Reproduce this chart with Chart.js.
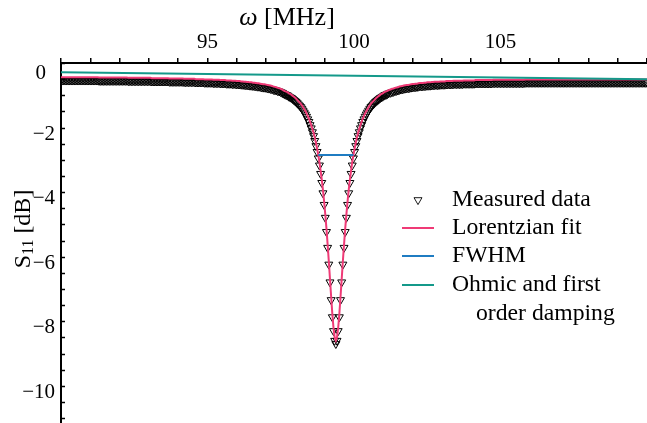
<!DOCTYPE html>
<html>
<head>
<meta charset="utf-8">
<script src="https://cdn.jsdelivr.net/npm/chart.js@4.4.1/dist/chart.umd.min.js"></script>
<style>
  html, body { margin: 0; padding: 0; background: #fff; }
  #wrap { width: 647px; height: 423px; }
</style>
</head>
<body>
<div id="wrap"><canvas id="chart" width="647" height="423"></canvas></div>
<script>
// --- data ---
const freqMHz = [
  90, 90.05, 90.1, 90.15, 90.2, 90.25, 90.3, 90.35, 90.4, 90.45, 90.5, 90.55, 90.6, 90.65, 90.7, 90.75, 90.8, 90.85, 90.9, 90.95,
  91, 91.05, 91.1, 91.15, 91.2, 91.25, 91.3, 91.35, 91.4, 91.45, 91.5, 91.55, 91.6, 91.65, 91.7, 91.75, 91.8, 91.85, 91.9, 91.95,
  92, 92.05, 92.1, 92.15, 92.2, 92.25, 92.3, 92.35, 92.4, 92.45, 92.5, 92.55, 92.6, 92.65, 92.7, 92.75, 92.8, 92.85, 92.9, 92.95,
  93, 93.05, 93.1, 93.15, 93.2, 93.25, 93.3, 93.35, 93.4, 93.45, 93.5, 93.55, 93.6, 93.65, 93.7, 93.75, 93.8, 93.85, 93.9, 93.95,
  94, 94.05, 94.1, 94.15, 94.2, 94.25, 94.3, 94.35, 94.4, 94.45, 94.5, 94.55, 94.6, 94.65, 94.7, 94.75, 94.8, 94.85, 94.9, 94.95,
  95, 95.05, 95.1, 95.15, 95.2, 95.25, 95.3, 95.35, 95.4, 95.45, 95.5, 95.55, 95.6, 95.65, 95.7, 95.75, 95.8, 95.85, 95.9, 95.95,
  96, 96.05, 96.1, 96.15, 96.2, 96.25, 96.3, 96.35, 96.4, 96.45, 96.5, 96.55, 96.6, 96.65, 96.7, 96.75, 96.8, 96.85, 96.9, 96.95,
  97, 97.05, 97.1, 97.15, 97.2, 97.25, 97.3, 97.35, 97.4, 97.45, 97.5, 97.55,
  97.58, 97.62, 97.66, 97.70, 97.74, 97.78, 97.82, 97.86, 97.90, 97.94,
  97.98, 98.02, 98.06, 98.10, 98.14, 98.18, 98.22, 98.26, 98.30, 98.34,
  98.38, 98.42, 98.46, 98.50, 98.54, 98.58, 98.62, 98.66, 98.70, 98.74,
  98.78, 98.82, 98.86, 98.90, 98.94, 98.98, 99.02, 99.06, 99.10, 99.14,
  99.18, 99.22, 99.26, 99.30, 99.34, 99.38, 99.42, 99.46, 99.50, 99.54,
  99.58, 99.62, 99.66, 99.70, 99.74, 99.78, 99.82, 99.86, 99.90, 99.94,
  99.98, 100.02, 100.06, 100.10, 100.14, 100.18, 100.22, 100.26, 100.30, 100.34,
  100.38, 100.42, 100.46, 100.50, 100.54, 100.58, 100.62, 100.66, 100.70, 100.74,
  100.78, 100.82, 100.86, 100.90, 100.94, 100.98, 101.02, 101.06, 101.10, 101.14,
  101.18,
  101.25, 101.3, 101.35, 101.4, 101.45, 101.5, 101.55, 101.6, 101.65, 101.7, 101.75, 101.8, 101.85, 101.9, 101.95,
  102, 102.05, 102.1, 102.15, 102.2, 102.25, 102.3, 102.35, 102.4, 102.45, 102.5, 102.55, 102.6, 102.65, 102.7, 102.75, 102.8, 102.85, 102.9, 102.95,
  103, 103.05, 103.1, 103.15, 103.2, 103.25, 103.3, 103.35, 103.4, 103.45, 103.5, 103.55, 103.6, 103.65, 103.7, 103.75, 103.8, 103.85, 103.9, 103.95,
  104, 104.05, 104.1, 104.15, 104.2, 104.25, 104.3, 104.35, 104.4, 104.45, 104.5, 104.55, 104.6, 104.65, 104.7, 104.75, 104.8, 104.85, 104.9, 104.95,
  105, 105.05, 105.1, 105.15, 105.2, 105.25, 105.3, 105.35, 105.4, 105.45, 105.5, 105.55, 105.6, 105.65, 105.7, 105.75, 105.8, 105.85, 105.9, 105.95,
  106, 106.05, 106.1, 106.15, 106.2, 106.25, 106.3, 106.35, 106.4, 106.45, 106.5, 106.55, 106.6, 106.65, 106.7, 106.75, 106.8, 106.85, 106.9, 106.95,
  107, 107.05, 107.1, 107.15, 107.2, 107.25, 107.3, 107.35, 107.4, 107.45, 107.5, 107.55, 107.6, 107.65, 107.7, 107.75, 107.8, 107.85, 107.9, 107.95,
  108, 108.05, 108.1, 108.15, 108.2, 108.25, 108.3, 108.35, 108.4, 108.45, 108.5, 108.55, 108.6, 108.65, 108.7, 108.75, 108.8, 108.85, 108.9, 108.95,
  109, 109.05, 109.1, 109.15, 109.2, 109.25, 109.3, 109.35, 109.4, 109.45, 109.5, 109.55, 109.6, 109.65, 109.7, 109.75, 109.8, 109.85, 109.9, 109.95,
  110
];

const measuredDb = [
  -0.54, -0.54, -0.54, -0.54, -0.54, -0.54, -0.54, -0.54, -0.54, -0.54, -0.54, -0.54, -0.54, -0.54, -0.54, -0.54, -0.54, -0.54, -0.54, -0.54,
  -0.54, -0.54, -0.54, -0.54, -0.54, -0.54, -0.55, -0.55, -0.55, -0.55, -0.55, -0.55, -0.55, -0.55, -0.55, -0.55, -0.55, -0.55, -0.55, -0.55,
  -0.55, -0.55, -0.55, -0.55, -0.55, -0.55, -0.56, -0.56, -0.56, -0.56, -0.56, -0.56, -0.56, -0.56, -0.56, -0.56, -0.56, -0.56, -0.56, -0.56,
  -0.56, -0.56, -0.57, -0.57, -0.57, -0.57, -0.57, -0.57, -0.57, -0.57, -0.57, -0.57, -0.57, -0.57, -0.58, -0.58, -0.58, -0.58, -0.58, -0.58,
  -0.58, -0.58, -0.58, -0.58, -0.59, -0.59, -0.59, -0.59, -0.59, -0.59, -0.59, -0.59, -0.60, -0.60, -0.60, -0.60, -0.60, -0.60, -0.61, -0.61,
  -0.61, -0.61, -0.61, -0.61, -0.62, -0.62, -0.62, -0.62, -0.62, -0.63, -0.63, -0.63, -0.63, -0.64, -0.64, -0.64, -0.64, -0.65, -0.65, -0.65,
  -0.66, -0.66, -0.66, -0.67, -0.67, -0.68, -0.68, -0.69, -0.69, -0.70, -0.70, -0.71, -0.71, -0.72, -0.73, -0.73, -0.74, -0.75, -0.76, -0.76,
  -0.77, -0.78, -0.79, -0.80, -0.81, -0.83, -0.84, -0.85, -0.87, -0.88, -0.90, -0.92,
  -0.94, -0.96, -0.98, -0.99, -1.01, -1.04, -1.06, -1.08, -1.11, -1.14,
  -1.17, -1.20, -1.24, -1.28, -1.32, -1.36, -1.41, -1.47, -1.53, -1.59,
  -1.66, -1.74, -1.82, -1.92, -2.02, -2.14, -2.26, -2.41, -2.57, -2.75,
  -2.95, -3.17, -3.43, -3.71, -4.03, -4.39, -4.79, -5.23, -5.72, -6.24,
  -6.79, -7.34, -7.87, -8.30, -8.60, -8.70, -8.60, -8.30, -7.87, -7.34,
  -6.79, -6.24, -5.72, -5.23, -4.79, -4.39, -4.03, -3.71, -3.43, -3.17,
  -2.95, -2.75, -2.57, -2.41, -2.26, -2.14, -2.02, -1.92, -1.82, -1.74,
  -1.66, -1.59, -1.53, -1.47, -1.41, -1.36, -1.32, -1.28, -1.24, -1.20,
  -1.17, -1.14, -1.11, -1.08, -1.06, -1.04, -1.01, -0.99, -0.98, -0.96,
  -0.94,
  -0.92, -0.90, -0.89, -0.87, -0.86, -0.85, -0.83, -0.82, -0.81, -0.80, -0.79, -0.78, -0.78, -0.77, -0.76,
  -0.75, -0.75, -0.74, -0.74, -0.73, -0.72, -0.72, -0.72, -0.71, -0.71, -0.70, -0.70, -0.70, -0.69, -0.69, -0.68, -0.68, -0.68, -0.68, -0.67,
  -0.67, -0.67, -0.67, -0.66, -0.66, -0.66, -0.66, -0.66, -0.65, -0.65, -0.65, -0.65, -0.65, -0.65, -0.65, -0.64, -0.64, -0.64, -0.64, -0.64,
  -0.64, -0.64, -0.64, -0.63, -0.63, -0.63, -0.63, -0.63, -0.63, -0.63, -0.63, -0.63, -0.63, -0.63, -0.63, -0.62, -0.62, -0.62, -0.62, -0.62,
  -0.62, -0.62, -0.62, -0.62, -0.62, -0.62, -0.62, -0.62, -0.62, -0.62, -0.62, -0.62, -0.62, -0.62, -0.62, -0.62, -0.62, -0.61, -0.61, -0.61,
  -0.61, -0.61, -0.61, -0.61, -0.61, -0.61, -0.61, -0.61, -0.61, -0.61, -0.61, -0.61, -0.61, -0.61, -0.61, -0.61, -0.61, -0.61, -0.61, -0.61,
  -0.61, -0.61, -0.61, -0.61, -0.61, -0.61, -0.61, -0.61, -0.61, -0.61, -0.61, -0.61, -0.61, -0.61, -0.61, -0.61, -0.61, -0.61, -0.61, -0.61,
  -0.61, -0.61, -0.61, -0.61, -0.61, -0.61, -0.61, -0.61, -0.61, -0.61, -0.61, -0.61, -0.61, -0.61, -0.61, -0.61, -0.61, -0.61, -0.61, -0.61,
  -0.61, -0.61, -0.61, -0.61, -0.61, -0.61, -0.61, -0.61, -0.61, -0.61, -0.61, -0.61, -0.61, -0.61, -0.61, -0.61, -0.61, -0.61, -0.61, -0.61,
  -0.61
];

const fitDb = [
  -0.44, -0.44, -0.44, -0.44, -0.44, -0.44, -0.44, -0.44, -0.44, -0.44, -0.44, -0.44, -0.44, -0.44, -0.44, -0.44, -0.44, -0.44, -0.44, -0.44,
  -0.44, -0.44, -0.44, -0.44, -0.44, -0.44, -0.45, -0.45, -0.45, -0.45, -0.45, -0.45, -0.45, -0.45, -0.45, -0.45, -0.45, -0.45, -0.45, -0.45,
  -0.45, -0.45, -0.45, -0.45, -0.45, -0.45, -0.46, -0.46, -0.46, -0.46, -0.46, -0.46, -0.46, -0.46, -0.46, -0.46, -0.46, -0.46, -0.46, -0.46,
  -0.46, -0.46, -0.47, -0.47, -0.47, -0.47, -0.47, -0.47, -0.47, -0.47, -0.47, -0.47, -0.47, -0.47, -0.48, -0.48, -0.48, -0.48, -0.48, -0.48,
  -0.48, -0.48, -0.48, -0.48, -0.49, -0.49, -0.49, -0.49, -0.49, -0.49, -0.49, -0.49, -0.50, -0.50, -0.50, -0.50, -0.50, -0.50, -0.51, -0.51,
  -0.51, -0.51, -0.51, -0.51, -0.52, -0.52, -0.52, -0.52, -0.52, -0.53, -0.53, -0.53, -0.53, -0.54, -0.54, -0.54, -0.54, -0.55, -0.55, -0.55,
  -0.56, -0.56, -0.56, -0.57, -0.57, -0.58, -0.58, -0.59, -0.59, -0.60, -0.60, -0.61, -0.61, -0.62, -0.63, -0.63, -0.64, -0.65, -0.66, -0.66,
  -0.67, -0.68, -0.69, -0.70, -0.71, -0.73, -0.74, -0.75, -0.77, -0.78, -0.80, -0.82,
  -0.84, -0.86, -0.88, -0.89, -0.91, -0.94, -0.96, -0.98, -1.01, -1.04,
  -1.07, -1.10, -1.14, -1.18, -1.22, -1.26, -1.31, -1.37, -1.43, -1.49,
  -1.56, -1.64, -1.72, -1.82, -1.92, -2.04, -2.16, -2.31, -2.47, -2.65,
  -2.85, -3.07, -3.33, -3.61, -3.93, -4.29, -4.69, -5.13, -5.62, -6.14,
  -6.69, -7.24, -7.77, -8.20, -8.50, -8.60, -8.50, -8.20, -7.77, -7.24,
  -6.69, -6.14, -5.62, -5.13, -4.69, -4.29, -3.93, -3.61, -3.33, -3.07,
  -2.85, -2.65, -2.47, -2.31, -2.16, -2.04, -1.92, -1.82, -1.72, -1.64,
  -1.56, -1.49, -1.43, -1.37, -1.31, -1.26, -1.22, -1.18, -1.14, -1.10,
  -1.07, -1.04, -1.01, -0.98, -0.96, -0.94, -0.91, -0.89, -0.88, -0.86,
  -0.84,
  -0.82, -0.80, -0.79, -0.77, -0.76, -0.75, -0.73, -0.72, -0.71, -0.70, -0.69, -0.68, -0.68, -0.67, -0.66,
  -0.65, -0.65, -0.64, -0.64, -0.63, -0.62, -0.62, -0.62, -0.61, -0.61, -0.60, -0.60, -0.60, -0.59, -0.59, -0.58, -0.58, -0.58, -0.58, -0.57,
  -0.57, -0.57, -0.57, -0.56, -0.56, -0.56, -0.56, -0.56, -0.55, -0.55, -0.55, -0.55, -0.55, -0.55, -0.55, -0.54, -0.54, -0.54, -0.54, -0.54,
  -0.54, -0.54, -0.54, -0.53, -0.53, -0.53, -0.53, -0.53, -0.53, -0.53, -0.53, -0.53, -0.53, -0.53, -0.53, -0.52, -0.52, -0.52, -0.52, -0.52,
  -0.52, -0.52, -0.52, -0.52, -0.52, -0.52, -0.52, -0.52, -0.52, -0.52, -0.52, -0.52, -0.52, -0.52, -0.52, -0.52, -0.52, -0.51, -0.51, -0.51,
  -0.51, -0.51, -0.51, -0.51, -0.51, -0.51, -0.51, -0.51, -0.51, -0.51, -0.51, -0.51, -0.51, -0.51, -0.51, -0.51, -0.51, -0.51, -0.51, -0.51,
  -0.51, -0.51, -0.51, -0.51, -0.51, -0.51, -0.51, -0.51, -0.51, -0.51, -0.51, -0.51, -0.51, -0.51, -0.51, -0.51, -0.51, -0.51, -0.51, -0.51,
  -0.51, -0.51, -0.51, -0.51, -0.51, -0.51, -0.51, -0.51, -0.51, -0.51, -0.51, -0.51, -0.51, -0.51, -0.51, -0.51, -0.51, -0.51, -0.51, -0.51,
  -0.51, -0.51, -0.51, -0.51, -0.51, -0.51, -0.51, -0.51, -0.51, -0.51, -0.51, -0.51, -0.51, -0.51, -0.51, -0.51, -0.51, -0.51, -0.51, -0.51,
  -0.51
];

const fwhmFreq = [98.78, 99.98];
const fwhmDb = [-2.85, -2.85];

const ohmicFreq = [90, 110];
const ohmicDb = [-0.29, -0.50];

const xLabelTicks = [95, 100, 105];
const yLabelTicks = [0, -2, -4, -6, -8, -10];
const yMinorStep = 0.5;

const legendItems = [
  { text: ['Measured data'], kind: 'marker' },
  { text: ['Lorentzian fit'], kind: 'line', color: '#ef3a76' },
  { text: ['FWHM'], kind: 'line', color: '#1f7cc2' },
  { text: ['Ohmic and first', 'order damping'], kind: 'line', color: '#14998a' }
];

const serif = '"Liberation Serif", "Times New Roman", serif';

const toPoints = (xs, ys) => xs.map((x, i) => ({ x, y: ys[i] }));

// --- axes decorations, titles and legend drawn on top of the chart ---
const decorations = {
    id: 'decorations',
    afterDraw(chart) {
        const { ctx, chartArea: area, scales: { y } } = chart;
        ctx.save();

        // inward ticks on the left axis
        ctx.strokeStyle = '#000';
        ctx.lineWidth = 1.5;
        for (let v = 0; v >= y.min; v -= yMinorStep) {
            const py = Math.round(y.getPixelForValue(v)) + 0.5;
            ctx.beginPath();
            ctx.moveTo(area.left, py);
            ctx.lineTo(area.left + 4, py);
            ctx.stroke();
        }

        // left tick labels (the 0 sits lower and further left, as in the figure)
        ctx.fillStyle = '#000';
        ctx.font = `21px ${serif}`;
        ctx.textAlign = 'right';
        ctx.textBaseline = 'middle';
        yLabelTicks.forEach(v => {
            const py = y.getPixelForValue(v) + (v === 0 ? 10.5 : 6.5);
            const px = v === 0 ? area.left - 15 : area.left - 6;
            const txt = v < 0 ? '\u2212' + String(-v) : String(v);
            ctx.fillText(txt, px, py);
        });

        // x title: italic omega + [MHz]
        ctx.textAlign = 'left';
        ctx.font = `italic 26px ${serif}`;
        const wOmega = ctx.measureText('\u03c9').width;
        ctx.font = `26px ${serif}`;
        const wUnit = ctx.measureText(' [MHz]').width;
        const tx = 287 - (wOmega + wUnit) / 2;
        ctx.font = `italic 26px ${serif}`;
        ctx.fillText('\u03c9', tx, 18);
        ctx.font = `26px ${serif}`;
        ctx.fillText(' [MHz]', tx + wOmega, 18);

        // y title: S11 [dB], rotated
        ctx.save();
        ctx.translate(24, 229);
        ctx.rotate(-Math.PI / 2);
        ctx.font = `24px ${serif}`;
        const wS = ctx.measureText('S').width;
        const wRest = ctx.measureText(' [dB]').width;
        ctx.font = `16px ${serif}`;
        const wSub = ctx.measureText('11').width;
        const sx = -(wS + wSub + wRest) / 2;
        ctx.font = `24px ${serif}`;
        ctx.fillText('S', sx, 0);
        ctx.font = `16px ${serif}`;
        ctx.fillText('11', sx + wS, 5);
        ctx.font = `24px ${serif}`;
        ctx.fillText(' [dB]', sx + wS + wSub, 0);
        ctx.restore();

        // legend
        const rowY = [200, 228, 256, 285];
        ctx.font = `23.7px ${serif}`;
        legendItems.forEach((item, i) => {
            const ly = rowY[i];
            if (item.kind === 'marker') {
                ctx.strokeStyle = '#000';
                ctx.lineWidth = 0.9;
                ctx.beginPath();
                ctx.moveTo(418, ly + 4.6);
                ctx.lineTo(418 - 4, ly - 2.3);
                ctx.lineTo(418 + 4, ly - 2.3);
                ctx.closePath();
                ctx.stroke();
            } else {
                ctx.strokeStyle = item.color;
                ctx.lineWidth = 2;
                ctx.beginPath();
                ctx.moveTo(402, ly);
                ctx.lineTo(434, ly);
                ctx.stroke();
            }
            ctx.fillStyle = '#000';
            ctx.fillText(item.text[0], 452, ly);
            if (item.text[1]) ctx.fillText(item.text[1], 476, ly + 29);
        });

        ctx.restore();
    }
};

const ctx = document.getElementById('chart').getContext('2d');
new Chart(ctx, {
    type: 'line',
    data: {
        datasets: [
            {
                label: 'Ohmic and first order damping',
                data: toPoints(ohmicFreq, ohmicDb),
                borderColor: '#14998a',
                borderWidth: 2,
                pointRadius: 0,
                order: 0
            },
            {
                label: 'FWHM',
                data: toPoints(fwhmFreq, fwhmDb),
                borderColor: '#1f7cc2',
                borderWidth: 2,
                pointRadius: 0,
                order: 1
            },
            {
                label: 'Lorentzian fit',
                data: toPoints(freqMHz, fitDb),
                borderColor: '#ef3a76',
                borderWidth: 2,
                pointRadius: 0,
                order: 2
            },
            {
                label: 'Measured data',
                data: toPoints(freqMHz, measuredDb),
                showLine: false,
                pointStyle: 'triangle',
                rotation: 180,
                pointRadius: 4.6,
                pointBorderWidth: 1,
                pointBorderColor: '#000',
                pointBackgroundColor: 'rgba(0,0,0,0)',
                order: 3
            }
        ]
    },
    options: {
        responsive: false,
        animation: false,
        events: [],
        layout: { padding: 0, autoPadding: false },
        plugins: {
            legend: { display: false },
            tooltip: { enabled: false }
        },
        scales: {
            x: {
                type: 'linear',
                position: 'top',
                min: 90,
                max: 110,
                afterFit: s => {
                    s.height = 63;
                    s.paddingLeft = 0;
                    s.paddingRight = 0;
                },
                grid: {
                    drawOnChartArea: false,
                    drawTicks: true,
                    tickLength: 5,
                    color: '#000',
                    lineWidth: 1.5
                },
                border: { color: '#000', width: 2 },
                ticks: {
                    stepSize: 1,
                    autoSkip: false,
                    maxRotation: 0,
                    padding: 3,
                    color: '#000',
                    font: { family: serif, size: 21 },
                    callback: v => xLabelTicks.includes(v) ? String(v) : ''
                }
            },
            y: {
                type: 'linear',
                min: -11.15,
                max: 0,
                afterFit: s => {
                    s.width = 61;
                    s.paddingTop = 0;
                    s.paddingBottom = 0;
                },
                grid: { display: false },
                border: { color: '#000', width: 2 },
                ticks: { display: false }
            }
        }
    },
    plugins: [decorations]
});
</script>
</body>
</html>
